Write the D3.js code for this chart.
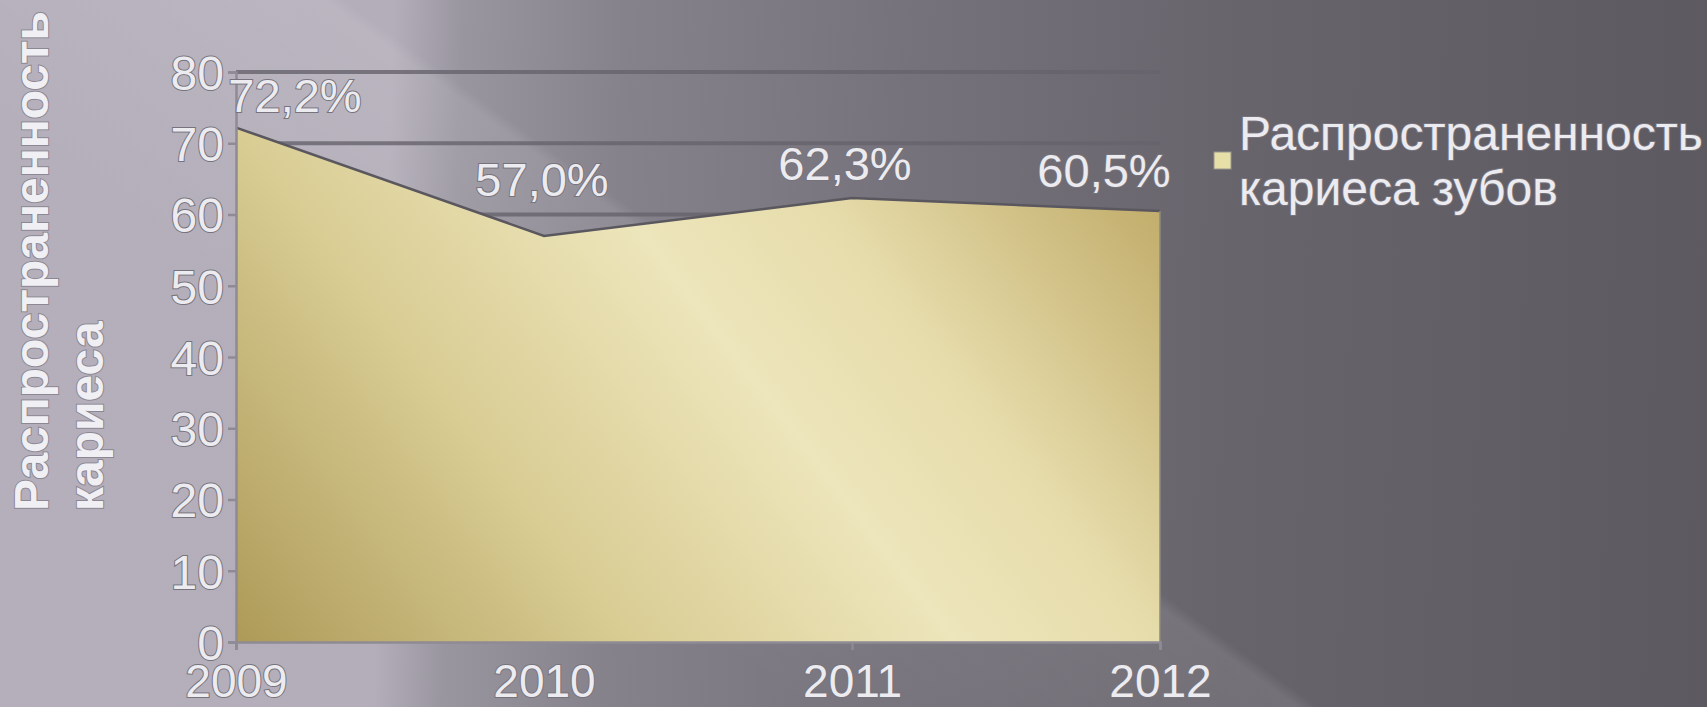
<!DOCTYPE html>
<html lang="ru">
<head>
  <meta charset="UTF-8">
  <title>Распространенность кариеса</title>
  <style>
    body { margin: 0; background: #8a8690; }
    svg { display: block; }
    text { font-family: "Liberation Sans", Arial, sans-serif; }
    .lbl { fill: #ecebf0; stroke: #76737c; stroke-width: 2px; paint-order: stroke; }
  </style>
</head>
<body>
  <script src="https://d3js.org/d3.v7.min.js"></script>
  <script>
    const years = ['2009', '2010', '2011', '2012'];
    const values = [72.2, 57.0, 62.3, 60.5];
    const valueLabels = ['72,2%', '57,0%', '62,3%', '60,5%'];
    const yTicks = [0, 10, 20, 30, 40, 50, 60, 70, 80];
    const seriesName = ['Распространенность', 'кариеса зубов'];
    const yTitle = ['Распространенность', 'кариеса'];

    const [width, height] = [1707, 707];
    const margin = { top: 72, left: 236, bottom: 65, right: 547 };

    // сдвиги подписей данных (как в исходном слайде)
    const labelNudge = [[59, -16], [-2, -40], [-7, -18], [-56, -24]];

    const svg = d3.select('body').append('svg')
      .attr('width', width).attr('height', height);

    const defs = svg.append('defs');

    function gradient(id, coords, stops) {
      const g = defs.append('linearGradient').attr('id', id)
        .attr('gradientUnits', 'userSpaceOnUse')
        .attr('x1', coords[0]).attr('y1', coords[1])
        .attr('x2', coords[2]).attr('y2', coords[3]);
      stops.forEach(s => g.append('stop')
        .attr('offset', s[0]).attr('stop-color', s[1])
        .attr('stop-opacity', s[2] === undefined ? 1 : s[2]));
      return g;
    }

    // фон слайда
    gradient('bg', [0, 330, 1707, 380], [
      [0, '#b4afbb'], [0.225, '#b3aeb9'], [0.265, '#9a96a0'],
      [0.36, '#86828c'], [0.53, '#76727b'], [0.72, '#68646c'], [1, '#5d5961']
    ]);
    gradient('streak', [1240, 650, 1060, 898], [
      [0, '#ffffff', 0], [0.04, '#ffffff', 0.09], [0.5, '#ffffff', 0.05], [1, '#ffffff', 0]
    ]);
    // заливка области
    gradient('gold', [348, 788, 1137, 181], [
      [0, '#ad9a58'], [0.316, '#d9cd94'], [0.573, '#ede5bb'],
      [0.736, '#e6dcab'], [0.88, '#d2c288'], [1, '#c2ae6c']
    ]);

    svg.append('rect').attr('width', width).attr('height', height).attr('fill', 'url(#bg)');
    svg.append('rect').attr('width', width).attr('height', height).attr('fill', 'url(#streak)');

    const x = d3.scalePoint()
      .domain(years)
      .range([margin.left, width - margin.right]);
    const y = d3.scaleLinear()
      .domain([0, 80])
      .range([height - margin.bottom, margin.top]);

    // линии сетки
    svg.append('g')
      .selectAll('line')
      .data(yTicks.filter(d => d > 0))
      .enter()
      .append('line')
      .attr('x1', margin.left).attr('x2', width - margin.right)
      .attr('y1', d => y(d)).attr('y2', d => y(d))
      .attr('stroke', '#67636d').attr('stroke-opacity', 0.8).attr('stroke-width', 4);

    // область
    const area = d3.area()
      .x((d, i) => x(years[i]))
      .y0(y(0))
      .y1(d => y(d));
    svg.append('path')
      .datum(values)
      .attr('d', area)
      .attr('fill', 'url(#gold)');
    const line = d3.line()
      .x((d, i) => x(years[i]))
      .y(d => y(d));
    svg.append('path')
      .datum(values)
      .attr('d', line)
      .attr('fill', 'none')
      .attr('stroke', '#5a575e')
      .attr('stroke-width', 2.5);
    svg.append('line')
      .attr('x1', x(years[3])).attr('x2', x(years[3]))
      .attr('y1', y(values[3])).attr('y2', y(0))
      .attr('stroke', '#8d8980').attr('stroke-width', 1.5);

    // оси
    const yAxis = d3.axisLeft(y).tickValues(yTicks).tickSize(8).tickPadding(4);
    const xAxis = d3.axisBottom(x).tickSize(8).tickPadding(14);

    const gy = svg.append('g')
      .attr('transform', `translate(${margin.left}, 0)`)
      .call(yAxis);
    const gx = svg.append('g')
      .attr('transform', `translate(0, ${height - margin.bottom})`)
      .call(xAxis);

    [gx, gy].forEach(g => {
      g.select('.domain').attr('stroke', '#8f8b95').attr('stroke-width', 2.5);
      g.selectAll('.tick line').attr('stroke', '#8f8b95').attr('stroke-width', 2.5);
      g.selectAll('.tick text')
        .attr('class', 'lbl')
        .attr('font-size', 48)
        .attr('font-family', '"Liberation Sans", Arial, sans-serif');
    });
    gy.selectAll('.tick text').attr('dy', '0.36em');
    gx.selectAll('.tick text').attr('dy', '0.71em').attr('font-size', 46);

    // подписи данных
    svg.append('g')
      .selectAll('text')
      .data(values)
      .enter()
      .append('text')
      .attr('class', 'lbl')
      .attr('x', (d, i) => x(years[i]) + labelNudge[i][0])
      .attr('y', (d, i) => y(d) + labelNudge[i][1])
      .attr('text-anchor', 'middle')
      .attr('font-size', 47)
      .text((d, i) => valueLabels[i]);

    // легенда
    const legend = svg.append('g').attr('transform', 'translate(1214, 150)');
    legend.append('rect')
      .attr('x', 0).attr('y', 2).attr('width', 17).attr('height', 17)
      .attr('fill', '#e7dfa8').attr('stroke', '#9a968c').attr('stroke-width', 1);
    legend.selectAll('text')
      .data(seriesName)
      .enter()
      .append('text')
      .attr('class', 'lbl')
      .attr('x', 25)
      .attr('y', (d, i) => i * 55)
      .attr('font-size', 48)
      .text(d => d);

    // заголовок оси Y
    svg.append('g')
      .attr('transform', 'translate(0, 511) rotate(-90)')
      .selectAll('text')
      .data(yTitle)
      .enter()
      .append('text')
      .attr('x', 0)
      .attr('y', (d, i) => 48 + i * 55)
      .attr('font-size', 48)
      .attr('font-weight', 'bold')
      .attr('fill', '#f0eff3')
      .attr('stroke', '#8c8893')
      .attr('stroke-width', 2)
      .attr('paint-order', 'stroke')
      .text(d => d);
  </script>
</body>
</html>
